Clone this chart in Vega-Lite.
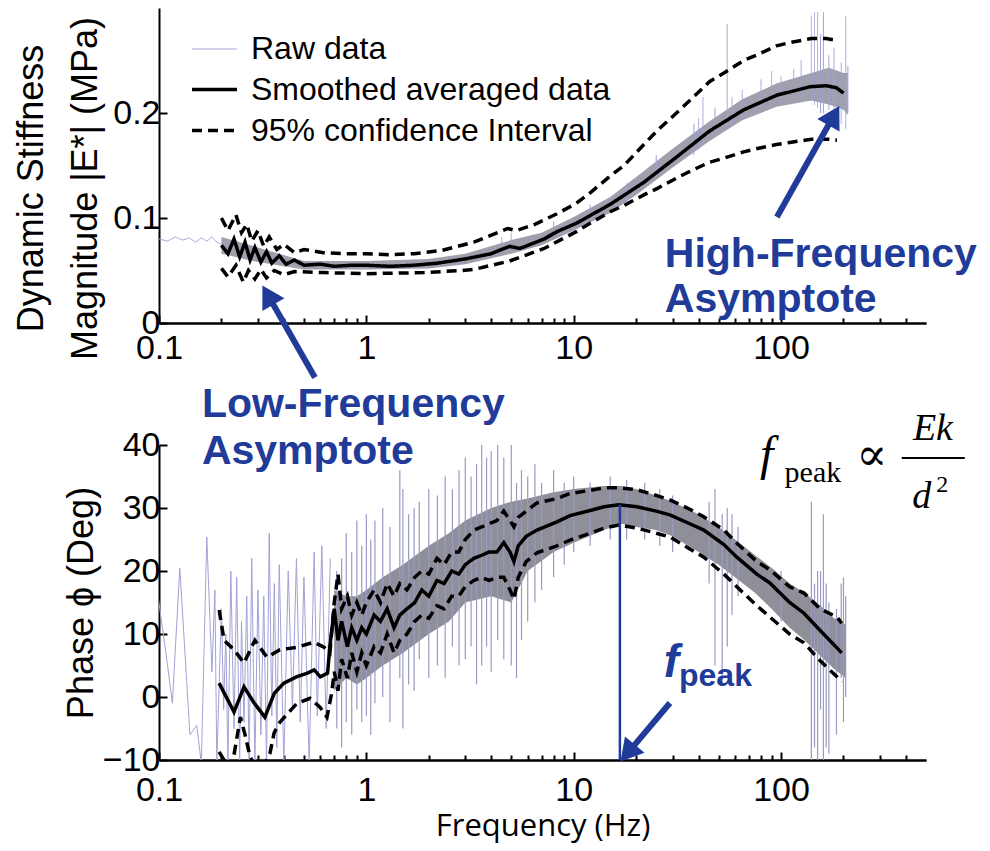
{
  "$schema": "https://vega.github.io/schema/vega-lite/v6.json",
  "background": "white",
  "padding": {"left": 13, "top": 8, "right": 2, "bottom": 2},
  "spacing": 122,
  "bounds": "flush",
  "datasets": {
    "topBand": [
      {"f": 0.2, "lo": 0.066, "hi": 0.082}, {"f": 0.3, "lo": 0.058, "hi": 0.072}, {"f": 0.5, "lo": 0.051, "hi": 0.059},
      {"f": 1, "lo": 0.051, "hi": 0.059}, {"f": 2, "lo": 0.052, "hi": 0.061}, {"f": 3, "lo": 0.056, "hi": 0.066},
      {"f": 5, "lo": 0.066, "hi": 0.079}, {"f": 7, "lo": 0.074, "hi": 0.086}, {"f": 10, "lo": 0.088, "hi": 0.101},
      {"f": 15, "lo": 0.105, "hi": 0.12}, {"f": 20, "lo": 0.122, "hi": 0.139}, {"f": 30, "lo": 0.148, "hi": 0.166},
      {"f": 45, "lo": 0.173, "hi": 0.192}, {"f": 65, "lo": 0.193, "hi": 0.213}, {"f": 95, "lo": 0.206, "hi": 0.228},
      {"f": 140, "lo": 0.212, "hi": 0.238}, {"f": 170, "lo": 0.208, "hi": 0.243}, {"f": 200, "lo": 0.203, "hi": 0.238},
      {"f": 210, "lo": 0.198, "hi": 0.238}
    ],
    "topSpikes": [
      {"f": 2.5, "lo": 0.054, "hi": 0.064}, {"f": 4.5, "lo": 0.066, "hi": 0.082}, {"f": 5.0, "lo": 0.068, "hi": 0.086},
      {"f": 8, "lo": 0.082, "hi": 0.097}, {"f": 12, "lo": 0.098, "hi": 0.113}, {"f": 18, "lo": 0.115, "hi": 0.133},
      {"f": 25, "lo": 0.14, "hi": 0.16}, {"f": 38, "lo": 0.16, "hi": 0.19}, {"f": 40, "lo": 0.165, "hi": 0.195},
      {"f": 42, "lo": 0.17, "hi": 0.215}, {"f": 48, "lo": 0.18, "hi": 0.205}, {"f": 55, "lo": 0.185, "hi": 0.285},
      {"f": 58, "lo": 0.19, "hi": 0.215}, {"f": 65, "lo": 0.195, "hi": 0.222}, {"f": 80, "lo": 0.205, "hi": 0.232},
      {"f": 90, "lo": 0.208, "hi": 0.24}, {"f": 100, "lo": 0.21, "hi": 0.235}, {"f": 115, "lo": 0.212, "hi": 0.242},
      {"f": 125, "lo": 0.213, "hi": 0.25}, {"f": 140, "lo": 0.212, "hi": 0.292}, {"f": 145, "lo": 0.208, "hi": 0.296},
      {"f": 150, "lo": 0.205, "hi": 0.296}, {"f": 155, "lo": 0.2, "hi": 0.275}, {"f": 160, "lo": 0.2, "hi": 0.296},
      {"f": 170, "lo": 0.203, "hi": 0.255}, {"f": 180, "lo": 0.195, "hi": 0.262}, {"f": 195, "lo": 0.19, "hi": 0.248},
      {"f": 205, "lo": 0.185, "hi": 0.292}, {"f": 210, "lo": 0.2, "hi": 0.245}
    ],
    "topRaw": [
      {"f": 0.1, "v": 0.08}, {"f": 0.11, "v": 0.078}, {"f": 0.12, "v": 0.082}, {"f": 0.13, "v": 0.079},
      {"f": 0.14, "v": 0.081}, {"f": 0.15, "v": 0.077}, {"f": 0.16, "v": 0.081}, {"f": 0.17, "v": 0.078},
      {"f": 0.18, "v": 0.082}, {"f": 0.19, "v": 0.077}, {"f": 0.2, "v": 0.075}
    ],
    "topSmooth": [
      {"f": 0.2, "v": 0.074}, {"f": 0.215, "v": 0.066}, {"f": 0.23, "v": 0.08}, {"f": 0.245, "v": 0.063},
      {"f": 0.26, "v": 0.077}, {"f": 0.275, "v": 0.06}, {"f": 0.29, "v": 0.072}, {"f": 0.31, "v": 0.058},
      {"f": 0.33, "v": 0.068}, {"f": 0.35, "v": 0.057}, {"f": 0.38, "v": 0.064}, {"f": 0.41, "v": 0.056},
      {"f": 0.45, "v": 0.06}, {"f": 0.5, "v": 0.055}, {"f": 0.6, "v": 0.056}, {"f": 0.7, "v": 0.054},
      {"f": 0.85, "v": 0.055}, {"f": 1.0, "v": 0.055}, {"f": 1.3, "v": 0.054}, {"f": 1.7, "v": 0.055},
      {"f": 2.2, "v": 0.057}, {"f": 3.0, "v": 0.061}, {"f": 4.0, "v": 0.066}, {"f": 4.9, "v": 0.073},
      {"f": 5.5, "v": 0.071}, {"f": 7.2, "v": 0.08}, {"f": 8.3, "v": 0.087}, {"f": 10.3, "v": 0.095},
      {"f": 15, "v": 0.113}, {"f": 21.8, "v": 0.134}, {"f": 31.3, "v": 0.158}, {"f": 45.3, "v": 0.183},
      {"f": 66, "v": 0.203}, {"f": 95.5, "v": 0.217}, {"f": 138, "v": 0.225}, {"f": 165, "v": 0.226},
      {"f": 185, "v": 0.224}, {"f": 200, "v": 0.219}
    ],
    "topCI": [
      {"bound": "upper", "f": 0.2, "v": 0.1}, {"bound": "upper", "f": 0.215, "v": 0.088}, {"bound": "upper", "f": 0.235, "v": 0.103},
      {"bound": "upper", "f": 0.25, "v": 0.086}, {"bound": "upper", "f": 0.265, "v": 0.094}, {"bound": "upper", "f": 0.28, "v": 0.078},
      {"bound": "upper", "f": 0.3, "v": 0.088}, {"bound": "upper", "f": 0.32, "v": 0.073}, {"bound": "upper", "f": 0.34, "v": 0.082},
      {"bound": "upper", "f": 0.37, "v": 0.07}, {"bound": "upper", "f": 0.4, "v": 0.075}, {"bound": "upper", "f": 0.45, "v": 0.067},
      {"bound": "upper", "f": 0.5, "v": 0.07}, {"bound": "upper", "f": 0.62, "v": 0.067}, {"bound": "upper", "f": 0.8, "v": 0.066},
      {"bound": "upper", "f": 1.0, "v": 0.066}, {"bound": "upper", "f": 1.3, "v": 0.065}, {"bound": "upper", "f": 1.7, "v": 0.066},
      {"bound": "upper", "f": 2.3, "v": 0.069}, {"bound": "upper", "f": 3.3, "v": 0.077}, {"bound": "upper", "f": 4.8, "v": 0.09},
      {"bound": "upper", "f": 5.3, "v": 0.088}, {"bound": "upper", "f": 6.5, "v": 0.094}, {"bound": "upper", "f": 8.3, "v": 0.104},
      {"bound": "upper", "f": 10.3, "v": 0.114}, {"bound": "upper", "f": 12, "v": 0.124}, {"bound": "upper", "f": 15, "v": 0.14},
      {"bound": "upper", "f": 17.5, "v": 0.15}, {"bound": "upper", "f": 21.8, "v": 0.17}, {"bound": "upper", "f": 25.2, "v": 0.183},
      {"bound": "upper", "f": 31.3, "v": 0.2}, {"bound": "upper", "f": 36.3, "v": 0.212}, {"bound": "upper", "f": 45.3, "v": 0.23},
      {"bound": "upper", "f": 53, "v": 0.238}, {"bound": "upper", "f": 66, "v": 0.25}, {"bound": "upper", "f": 76, "v": 0.255},
      {"bound": "upper", "f": 95, "v": 0.264}, {"bound": "upper", "f": 110, "v": 0.267}, {"bound": "upper", "f": 140, "v": 0.271},
      {"bound": "upper", "f": 165, "v": 0.271}, {"bound": "upper", "f": 186, "v": 0.269},
      {"bound": "lower", "f": 0.2, "v": 0.052}, {"bound": "lower", "f": 0.215, "v": 0.044}, {"bound": "lower", "f": 0.235, "v": 0.055},
      {"bound": "lower", "f": 0.255, "v": 0.039}, {"bound": "lower", "f": 0.27, "v": 0.05}, {"bound": "lower", "f": 0.29, "v": 0.042},
      {"bound": "lower", "f": 0.31, "v": 0.051}, {"bound": "lower", "f": 0.33, "v": 0.043}, {"bound": "lower", "f": 0.36, "v": 0.05},
      {"bound": "lower", "f": 0.4, "v": 0.046}, {"bound": "lower", "f": 0.45, "v": 0.049}, {"bound": "lower", "f": 0.62, "v": 0.048},
      {"bound": "lower", "f": 1.0, "v": 0.047}, {"bound": "lower", "f": 1.9, "v": 0.048}, {"bound": "lower", "f": 2.9, "v": 0.05},
      {"bound": "lower", "f": 3.3, "v": 0.051}, {"bound": "lower", "f": 4.9, "v": 0.059}, {"bound": "lower", "f": 7.2, "v": 0.071},
      {"bound": "lower", "f": 10.3, "v": 0.087}, {"bound": "lower", "f": 12, "v": 0.095}, {"bound": "lower", "f": 15, "v": 0.106},
      {"bound": "lower", "f": 17.5, "v": 0.112}, {"bound": "lower", "f": 21.8, "v": 0.122}, {"bound": "lower", "f": 25.2, "v": 0.128},
      {"bound": "lower", "f": 31.3, "v": 0.138}, {"bound": "lower", "f": 36, "v": 0.144}, {"bound": "lower", "f": 45, "v": 0.153},
      {"bound": "lower", "f": 53, "v": 0.157}, {"bound": "lower", "f": 66, "v": 0.163}, {"bound": "lower", "f": 76, "v": 0.166},
      {"bound": "lower", "f": 95, "v": 0.17}, {"bound": "lower", "f": 110, "v": 0.172}, {"bound": "lower", "f": 140, "v": 0.175},
      {"bound": "lower", "f": 170, "v": 0.175}, {"bound": "lower", "f": 186, "v": 0.174}
    ],
    "botRaw": [
      {"f": 0.098, "v": 17}, {"f": 0.11, "v": 5}, {"f": 0.116, "v": -1}, {"f": 0.126, "v": 20.5}, {"f": 0.141, "v": -6},
      {"f": 0.152, "v": -4.5}, {"f": 0.16, "v": -10.5}, {"f": 0.17, "v": 25.4}, {"f": 0.18, "v": 4}, {"f": 0.186, "v": 17},
      {"f": 0.19, "v": -10.5}, {"f": 0.2, "v": 14}, {"f": 0.205, "v": -2}, {"f": 0.21, "v": 10}, {"f": 0.215, "v": -10.5},
      {"f": 0.222, "v": 20}, {"f": 0.23, "v": -5}, {"f": 0.237, "v": 19}, {"f": 0.245, "v": -10.5}, {"f": 0.25, "v": 12},
      {"f": 0.257, "v": -4}, {"f": 0.265, "v": 16}, {"f": 0.272, "v": -10.5}, {"f": 0.28, "v": 22}, {"f": 0.29, "v": -10.5},
      {"f": 0.3, "v": 17}, {"f": 0.31, "v": -6}, {"f": 0.32, "v": 16}, {"f": 0.33, "v": -10.5}, {"f": 0.34, "v": 26},
      {"f": 0.35, "v": -3}, {"f": 0.36, "v": 18}, {"f": 0.37, "v": -8}, {"f": 0.38, "v": 21}, {"f": 0.4, "v": -10.5},
      {"f": 0.42, "v": 20}, {"f": 0.44, "v": -2}, {"f": 0.46, "v": 22}, {"f": 0.48, "v": -4}, {"f": 0.5, "v": 19},
      {"f": 0.53, "v": -10.5}, {"f": 0.56, "v": 23}, {"f": 0.58, "v": -3}, {"f": 0.61, "v": 24}, {"f": 0.64, "v": -5},
      {"f": 0.67, "v": 22}
    ],
    "botBand": [
      {"f": 0.7, "lo": 1, "hi": 17}, {"f": 0.8, "lo": 3, "hi": 16}, {"f": 0.9, "lo": 2, "hi": 16}, {"f": 1.0, "lo": 3, "hi": 17},
      {"f": 1.2, "lo": 5, "hi": 19}, {"f": 1.5, "lo": 7, "hi": 21}, {"f": 2.0, "lo": 10, "hi": 24}, {"f": 2.5, "lo": 12, "hi": 26},
      {"f": 3.0, "lo": 15, "hi": 28}, {"f": 4.0, "lo": 16, "hi": 30}, {"f": 5.0, "lo": 15, "hi": 31}, {"f": 6.0, "lo": 20, "hi": 31.5},
      {"f": 8.0, "lo": 23, "hi": 32.5}, {"f": 10, "lo": 24.5, "hi": 33}, {"f": 14, "lo": 26.5, "hi": 33.5}, {"f": 17, "lo": 27.5, "hi": 33.5},
      {"f": 20, "lo": 27, "hi": 33}, {"f": 25, "lo": 26.5, "hi": 32}, {"f": 30, "lo": 25.5, "hi": 31}, {"f": 40, "lo": 23, "hi": 29},
      {"f": 50, "lo": 21, "hi": 27}, {"f": 60, "lo": 19, "hi": 25}, {"f": 75, "lo": 16.5, "hi": 22.5}, {"f": 90, "lo": 14, "hi": 20.5},
      {"f": 110, "lo": 11, "hi": 18}, {"f": 130, "lo": 9, "hi": 16.5}, {"f": 155, "lo": 6.5, "hi": 14.5}, {"f": 180, "lo": 4.5, "hi": 12.5},
      {"f": 205, "lo": 3, "hi": 11.5}
    ],
    "botSpikes": [
      {"f": 0.72, "lo": -5, "hi": 20}, {"f": 0.76, "lo": -8, "hi": 22}, {"f": 0.8, "lo": -4, "hi": 26}, {"f": 0.85, "lo": -6, "hi": 23},
      {"f": 0.9, "lo": -2, "hi": 28}, {"f": 0.95, "lo": -4, "hi": 24}, {"f": 1.0, "lo": -3, "hi": 29}, {"f": 1.05, "lo": -6, "hi": 25},
      {"f": 1.1, "lo": -1, "hi": 28}, {"f": 1.2, "lo": 0, "hi": 30}, {"f": 1.3, "lo": -4, "hi": 27}, {"f": 1.45, "lo": 3, "hi": 36},
      {"f": 1.5, "lo": -5, "hi": 33}, {"f": 1.6, "lo": 2, "hi": 29}, {"f": 1.7, "lo": 1, "hi": 30}, {"f": 1.8, "lo": 6, "hi": 31},
      {"f": 2.0, "lo": 3, "hi": 33}, {"f": 2.2, "lo": 5, "hi": 32}, {"f": 2.4, "lo": 3, "hi": 35}, {"f": 2.6, "lo": 8, "hi": 33},
      {"f": 2.8, "lo": 5, "hi": 36}, {"f": 3.0, "lo": 6, "hi": 38}, {"f": 3.2, "lo": 8, "hi": 35}, {"f": 3.4, "lo": 2, "hi": 37},
      {"f": 3.6, "lo": 5, "hi": 40}, {"f": 3.8, "lo": 8, "hi": 38}, {"f": 4.0, "lo": 4, "hi": 39}, {"f": 4.3, "lo": 9, "hi": 40},
      {"f": 4.6, "lo": 6, "hi": 38}, {"f": 5.0, "lo": 5, "hi": 40}, {"f": 5.3, "lo": 3, "hi": 34}, {"f": 5.6, "lo": 9, "hi": 36},
      {"f": 6.0, "lo": 12, "hi": 35}, {"f": 6.5, "lo": 15, "hi": 37}, {"f": 7.0, "lo": 17, "hi": 34}, {"f": 8.0, "lo": 19, "hi": 36},
      {"f": 9.0, "lo": 21, "hi": 34}, {"f": 10, "lo": 23, "hi": 35}, {"f": 12, "lo": 24, "hi": 34}, {"f": 15, "lo": 25, "hi": 35},
      {"f": 18, "lo": 25, "hi": 34.5}, {"f": 22, "lo": 25, "hi": 34}, {"f": 26, "lo": 24, "hi": 33}, {"f": 30, "lo": 23, "hi": 32},
      {"f": 45, "lo": 18, "hi": 31}, {"f": 48, "lo": 5, "hi": 33}, {"f": 52, "lo": 2, "hi": 29}, {"f": 55, "lo": 8, "hi": 30},
      {"f": 58, "lo": 13, "hi": 29}, {"f": 62, "lo": 16, "hi": 27}, {"f": 100, "lo": 12, "hi": 20}, {"f": 140, "lo": -10, "hi": 31},
      {"f": 145, "lo": -8, "hi": 18}, {"f": 150, "lo": -10, "hi": 20}, {"f": 155, "lo": -2, "hi": 20}, {"f": 160, "lo": -10, "hi": 29},
      {"f": 165, "lo": -8, "hi": 18}, {"f": 170, "lo": -9, "hi": 15}, {"f": 185, "lo": -6, "hi": 14}, {"f": 195, "lo": 3, "hi": 18},
      {"f": 200, "lo": -4, "hi": 19}, {"f": 205, "lo": 0, "hi": 16}
    ],
    "botSmooth": [
      {"f": 0.195, "v": 2.2}, {"f": 0.23, "v": -2.4}, {"f": 0.257, "v": 1.6}, {"f": 0.287, "v": -0.9}, {"f": 0.324, "v": -3.2},
      {"f": 0.36, "v": 0.6}, {"f": 0.4, "v": 2.2}, {"f": 0.46, "v": 3.2}, {"f": 0.52, "v": 3.8}, {"f": 0.56, "v": 4.3},
      {"f": 0.6, "v": 3.2}, {"f": 0.65, "v": 3.8}, {"f": 0.667, "v": 8}, {"f": 0.7, "v": 14}, {"f": 0.73, "v": 9},
      {"f": 0.76, "v": 12}, {"f": 0.81, "v": 8}, {"f": 0.85, "v": 11}, {"f": 0.9, "v": 9}, {"f": 0.95, "v": 11},
      {"f": 1.0, "v": 10}, {"f": 1.09, "v": 13}, {"f": 1.17, "v": 12}, {"f": 1.26, "v": 14}, {"f": 1.36, "v": 11},
      {"f": 1.45, "v": 13}, {"f": 1.57, "v": 14}, {"f": 1.71, "v": 15}, {"f": 1.85, "v": 17}, {"f": 2.0, "v": 16},
      {"f": 2.19, "v": 18.5}, {"f": 2.37, "v": 18}, {"f": 2.58, "v": 20}, {"f": 2.79, "v": 19.5}, {"f": 3.0, "v": 21},
      {"f": 3.3, "v": 22}, {"f": 3.6, "v": 22.5}, {"f": 3.9, "v": 23}, {"f": 4.26, "v": 23}, {"f": 4.6, "v": 24.5},
      {"f": 4.93, "v": 23}, {"f": 5.15, "v": 21.5}, {"f": 5.4, "v": 24}, {"f": 5.9, "v": 25.5}, {"f": 6.65, "v": 26.5},
      {"f": 8.3, "v": 27.8}, {"f": 9.6, "v": 28.8}, {"f": 12, "v": 29.6}, {"f": 14, "v": 30.2}, {"f": 16.5, "v": 30.5},
      {"f": 20.2, "v": 30.2}, {"f": 25, "v": 29.5}, {"f": 29.1, "v": 28.9}, {"f": 36.3, "v": 27.5}, {"f": 42.4, "v": 26.5},
      {"f": 53, "v": 24.2}, {"f": 61.2, "v": 22.2}, {"f": 76.4, "v": 19.5}, {"f": 88.3, "v": 18.1}, {"f": 110, "v": 15},
      {"f": 129, "v": 13.3}, {"f": 154, "v": 10.6}, {"f": 186, "v": 7.8}, {"f": 196, "v": 7.0}
    ],
    "botCI": [
      {"bound": "upper", "f": 0.195, "v": 13.8}, {"bound": "upper", "f": 0.206, "v": 9.0}, {"bound": "upper", "f": 0.23, "v": 7.5},
      {"bound": "upper", "f": 0.257, "v": 5.4}, {"bound": "upper", "f": 0.29, "v": 9.0}, {"bound": "upper", "f": 0.332, "v": 6.3},
      {"bound": "upper", "f": 0.383, "v": 7.5}, {"bound": "upper", "f": 0.463, "v": 7.9}, {"bound": "upper", "f": 0.559, "v": 8.7},
      {"bound": "upper", "f": 0.625, "v": 7.9}, {"bound": "upper", "f": 0.667, "v": 7.0}, {"bound": "upper", "f": 0.7, "v": 15},
      {"bound": "upper", "f": 0.73, "v": 19.5}, {"bound": "upper", "f": 0.76, "v": 14}, {"bound": "upper", "f": 0.81, "v": 16},
      {"bound": "upper", "f": 0.85, "v": 13}, {"bound": "upper", "f": 0.9, "v": 15}, {"bound": "upper", "f": 0.95, "v": 13},
      {"bound": "upper", "f": 1.0, "v": 15}, {"bound": "upper", "f": 1.09, "v": 17}, {"bound": "upper", "f": 1.17, "v": 15},
      {"bound": "upper", "f": 1.26, "v": 18}, {"bound": "upper", "f": 1.36, "v": 16}, {"bound": "upper", "f": 1.45, "v": 18},
      {"bound": "upper", "f": 1.57, "v": 17}, {"bound": "upper", "f": 1.71, "v": 19}, {"bound": "upper", "f": 1.85, "v": 20},
      {"bound": "upper", "f": 2.0, "v": 19.5}, {"bound": "upper", "f": 2.19, "v": 22}, {"bound": "upper", "f": 2.37, "v": 21},
      {"bound": "upper", "f": 2.58, "v": 23}, {"bound": "upper", "f": 2.79, "v": 23}, {"bound": "upper", "f": 3.0, "v": 25},
      {"bound": "upper", "f": 3.3, "v": 26.5}, {"bound": "upper", "f": 3.6, "v": 27}, {"bound": "upper", "f": 3.9, "v": 27.5},
      {"bound": "upper", "f": 4.26, "v": 28}, {"bound": "upper", "f": 4.6, "v": 29.5}, {"bound": "upper", "f": 4.93, "v": 28},
      {"bound": "upper", "f": 5.15, "v": 27}, {"bound": "upper", "f": 5.4, "v": 28.5}, {"bound": "upper", "f": 5.9, "v": 29.5},
      {"bound": "upper", "f": 6.65, "v": 30.8}, {"bound": "upper", "f": 8.3, "v": 31.5}, {"bound": "upper", "f": 9.6, "v": 32.3},
      {"bound": "upper", "f": 12, "v": 32.8}, {"bound": "upper", "f": 14, "v": 33.2}, {"bound": "upper", "f": 16.5, "v": 33.2},
      {"bound": "upper", "f": 20.2, "v": 32.9}, {"bound": "upper", "f": 25, "v": 32}, {"bound": "upper", "f": 29.1, "v": 31.3},
      {"bound": "upper", "f": 36.3, "v": 29.8}, {"bound": "upper", "f": 42.4, "v": 28.6}, {"bound": "upper", "f": 53, "v": 26.5},
      {"bound": "upper", "f": 61.2, "v": 24.4}, {"bound": "upper", "f": 76.4, "v": 21.5}, {"bound": "upper", "f": 88.3, "v": 20.2},
      {"bound": "upper", "f": 110, "v": 17.5}, {"bound": "upper", "f": 129, "v": 16.5}, {"bound": "upper", "f": 154, "v": 14},
      {"bound": "upper", "f": 186, "v": 12.7}, {"bound": "upper", "f": 196, "v": 11.7},
      {"bound": "lower", "f": 0.195, "v": -8.7}, {"bound": "lower", "f": 0.21, "v": -10.5}, {"bound": "lower", "f": 0.225, "v": -11},
      {"bound": "lower", "f": 0.247, "v": -3.2}, {"bound": "lower", "f": 0.26, "v": -6}, {"bound": "lower", "f": 0.275, "v": -9.5},
      {"bound": "lower", "f": 0.29, "v": -11}, {"bound": "lower", "f": 0.32, "v": -11}, {"bound": "lower", "f": 0.343, "v": -8.9},
      {"bound": "lower", "f": 0.359, "v": -5.7}, {"bound": "lower", "f": 0.383, "v": -4.0}, {"bound": "lower", "f": 0.463, "v": -1.0},
      {"bound": "lower", "f": 0.535, "v": -0.2}, {"bound": "lower", "f": 0.597, "v": -1.6}, {"bound": "lower", "f": 0.646, "v": -3.2},
      {"bound": "lower", "f": 0.68, "v": 0.6}, {"bound": "lower", "f": 0.7, "v": 4}, {"bound": "lower", "f": 0.73, "v": 1},
      {"bound": "lower", "f": 0.76, "v": 6}, {"bound": "lower", "f": 0.81, "v": 3}, {"bound": "lower", "f": 0.85, "v": 7},
      {"bound": "lower", "f": 0.9, "v": 4}, {"bound": "lower", "f": 0.95, "v": 7}, {"bound": "lower", "f": 1.0, "v": 5},
      {"bound": "lower", "f": 1.09, "v": 8}, {"bound": "lower", "f": 1.17, "v": 7}, {"bound": "lower", "f": 1.26, "v": 10},
      {"bound": "lower", "f": 1.36, "v": 7}, {"bound": "lower", "f": 1.45, "v": 9}, {"bound": "lower", "f": 1.57, "v": 10},
      {"bound": "lower", "f": 1.71, "v": 12}, {"bound": "lower", "f": 1.85, "v": 13}, {"bound": "lower", "f": 2.0, "v": 12.5},
      {"bound": "lower", "f": 2.19, "v": 14.5}, {"bound": "lower", "f": 2.37, "v": 14}, {"bound": "lower", "f": 2.58, "v": 16},
      {"bound": "lower", "f": 2.79, "v": 16}, {"bound": "lower", "f": 3.0, "v": 17.5}, {"bound": "lower", "f": 3.3, "v": 18.5},
      {"bound": "lower", "f": 3.6, "v": 19}, {"bound": "lower", "f": 3.9, "v": 18.5}, {"bound": "lower", "f": 4.26, "v": 19},
      {"bound": "lower", "f": 4.6, "v": 19}, {"bound": "lower", "f": 4.93, "v": 17}, {"bound": "lower", "f": 5.15, "v": 15.5},
      {"bound": "lower", "f": 5.4, "v": 19}, {"bound": "lower", "f": 5.9, "v": 21.5}, {"bound": "lower", "f": 6.65, "v": 22.9},
      {"bound": "lower", "f": 8.3, "v": 24}, {"bound": "lower", "f": 9.6, "v": 24.9}, {"bound": "lower", "f": 12, "v": 26},
      {"bound": "lower", "f": 14, "v": 26.8}, {"bound": "lower", "f": 16.5, "v": 27.3}, {"bound": "lower", "f": 20.2, "v": 26.8},
      {"bound": "lower", "f": 25, "v": 26}, {"bound": "lower", "f": 29.1, "v": 25.4}, {"bound": "lower", "f": 36.3, "v": 23.5},
      {"bound": "lower", "f": 42.4, "v": 22.2}, {"bound": "lower", "f": 53, "v": 19.5}, {"bound": "lower", "f": 61.2, "v": 17.5},
      {"bound": "lower", "f": 76.4, "v": 14.5}, {"bound": "lower", "f": 88.3, "v": 12.7}, {"bound": "lower", "f": 110, "v": 10},
      {"bound": "lower", "f": 129, "v": 8.6}, {"bound": "lower", "f": 154, "v": 5.8}, {"bound": "lower", "f": 186, "v": 3.2},
      {"bound": "lower", "f": 196, "v": 2.4}
    ]
  },
  "vconcat": [
    {
      "width": 767,
      "height": 315,
      "resolve": {"axis": {"x": "independent"}},
      "layer": [
        {
          "data": {"name": "topBand"},
          "mark": {"type": "area", "color": "#8e8ea0", "opacity": 0.85, "clip": true},
          "encoding": {
            "x": {"field": "f", "type": "quantitative", "scale": {"type": "log", "domain": [0.1, 500], "nice": false},
                  "axis": {"orient": "bottom", "values": [0.2, 0.3, 0.4, 0.5, 0.6, 0.7, 0.8, 0.9, 2, 3, 4, 5, 6, 7, 8, 9, 20, 30, 40, 50, 60, 70, 80, 90, 200, 300, 400], "labels": false, "tickSize": -5, "title": null}},
            "y": {"field": "lo", "type": "quantitative", "scale": {"domain": [0, 0.3], "nice": false, "zero": false},
                  "axis": {"values": [0, 0.1, 0.2], "format": "~g", "tickSize": -8, "labelPadding": 7,
                           "title": ["Dynamic Stiffness", "Magnitude |E*| (MPa)"], "titleLineHeight": 54, "titlePadding": 8, "titleY": 180}},
            "y2": {"field": "hi"}
          }
        },
        {
          "data": {"name": "topSpikes"},
          "mark": {"type": "rule", "clip": true},
          "encoding": {
            "x": {"field": "f", "type": "quantitative", "scale": {"type": "log", "domain": [0.1, 500], "nice": false},
                  "axis": {"orient": "bottom", "values": [0.1, 1, 10, 100], "format": "~g", "tickSize": -8, "labelPadding": 16, "title": null}},
            "y": {"field": "lo", "type": "quantitative"},
            "y2": {"field": "hi"},
            "color": {"datum": "Raw data", "scale": {"type": "ordinal", "domain": ["Raw data", "Smoothed averaged data", "95% confidence Interval"], "range": ["#a2a2d8", "#000000", "#000000"]}, "legend": {"title": null}},
            "strokeDash": {"datum": "Raw data", "scale": {"type": "ordinal", "domain": ["Raw data", "Smoothed averaged data", "95% confidence Interval"], "range": [[1, 0], [1, 0], [10, 6]]}, "legend": {"title": null}},
            "strokeWidth": {"datum": "Raw data", "scale": {"type": "ordinal", "domain": ["Raw data", "Smoothed averaged data", "95% confidence Interval"], "range": [1, 3.5, 3.5]}, "legend": {"title": null}}
          }
        },
        {
          "data": {"name": "topRaw"},
          "mark": {"type": "line", "clip": true},
          "encoding": {
            "x": {"field": "f", "type": "quantitative", "scale": {"type": "log", "domain": [0.1, 500], "nice": false}, "axis": null},
            "y": {"field": "v", "type": "quantitative"},
            "color": {"datum": "Raw data", "scale": {"type": "ordinal", "domain": ["Raw data", "Smoothed averaged data", "95% confidence Interval"], "range": ["#a2a2d8", "#000000", "#000000"]}, "legend": {"title": null}},
            "strokeDash": {"datum": "Raw data", "scale": {"type": "ordinal", "domain": ["Raw data", "Smoothed averaged data", "95% confidence Interval"], "range": [[1, 0], [1, 0], [10, 6]]}, "legend": {"title": null}},
            "strokeWidth": {"datum": "Raw data", "scale": {"type": "ordinal", "domain": ["Raw data", "Smoothed averaged data", "95% confidence Interval"], "range": [1, 3.5, 3.5]}, "legend": {"title": null}}
          }
        },
        {
          "data": {"name": "topCI"},
          "mark": {"type": "line", "clip": true},
          "encoding": {
            "x": {"field": "f", "type": "quantitative", "scale": {"type": "log", "domain": [0.1, 500], "nice": false}, "axis": null},
            "y": {"field": "v", "type": "quantitative"},
            "detail": {"field": "bound"},
            "color": {"datum": "95% confidence Interval", "scale": {"type": "ordinal", "domain": ["Raw data", "Smoothed averaged data", "95% confidence Interval"], "range": ["#a2a2d8", "#000000", "#000000"]}, "legend": {"title": null}},
            "strokeDash": {"datum": "95% confidence Interval", "scale": {"type": "ordinal", "domain": ["Raw data", "Smoothed averaged data", "95% confidence Interval"], "range": [[1, 0], [1, 0], [10, 6]]}, "legend": {"title": null}},
            "strokeWidth": {"datum": "95% confidence Interval", "scale": {"type": "ordinal", "domain": ["Raw data", "Smoothed averaged data", "95% confidence Interval"], "range": [1, 3.5, 3.5]}, "legend": {"title": null}}
          }
        },
        {
          "data": {"name": "topSmooth"},
          "mark": {"type": "line", "clip": true},
          "encoding": {
            "x": {"field": "f", "type": "quantitative", "scale": {"type": "log", "domain": [0.1, 500], "nice": false}, "axis": null},
            "y": {"field": "v", "type": "quantitative"},
            "color": {"datum": "Smoothed averaged data", "scale": {"type": "ordinal", "domain": ["Raw data", "Smoothed averaged data", "95% confidence Interval"], "range": ["#a2a2d8", "#000000", "#000000"]}, "legend": {"title": null}},
            "strokeDash": {"datum": "Smoothed averaged data", "scale": {"type": "ordinal", "domain": ["Raw data", "Smoothed averaged data", "95% confidence Interval"], "range": [[1, 0], [1, 0], [10, 6]]}, "legend": {"title": null}},
            "strokeWidth": {"datum": "Smoothed averaged data", "scale": {"type": "ordinal", "domain": ["Raw data", "Smoothed averaged data", "95% confidence Interval"], "range": [1, 3.5, 3.5]}, "legend": {"title": null}}
          }
        },
        {
          "data": {"values": [{}]},
          "mark": {"type": "text", "text": "High-Frequency", "align": "left", "baseline": "middle", "font": "Liberation Sans", "fontSize": 41, "fontWeight": "bold", "color": "#213b98"},
          "encoding": {
            "x": {"datum": 27.5, "type": "quantitative", "scale": {"type": "log", "domain": [0.1, 500], "nice": false}, "axis": null},
            "y": {"datum": 0.0648, "type": "quantitative"}
          }
        },
        {
          "data": {"values": [{}]},
          "mark": {"type": "text", "text": "Asymptote", "align": "left", "baseline": "middle", "font": "Liberation Sans", "fontSize": 41, "fontWeight": "bold", "color": "#213b98"},
          "encoding": {
            "x": {"datum": 27.5, "type": "quantitative", "scale": {"type": "log", "domain": [0.1, 500], "nice": false}, "axis": null},
            "y": {"datum": 0.0219, "type": "quantitative"}
          }
        },
        {
          "data": {"values": [{}]},
          "mark": {"type": "rule", "color": "#213b98", "strokeWidth": 6},
          "encoding": {
            "x": {"datum": 95.5, "type": "quantitative", "scale": {"type": "log", "domain": [0.1, 500], "nice": false}, "axis": null},
            "x2": {"datum": 179.7},
            "y": {"datum": 0.101, "type": "quantitative"},
            "y2": {"datum": 0.1976}
          }
        },
        {
          "data": {"values": [{}]},
          "mark": {"type": "point", "shape": "triangle-up", "filled": true, "color": "#213b98", "size": 650, "opacity": 1, "angle": 29.4},
          "encoding": {
            "x": {"datum": 179.7, "type": "quantitative", "scale": {"type": "log", "domain": [0.1, 500], "nice": false}, "axis": null},
            "y": {"datum": 0.1976, "type": "quantitative"}
          }
        },
        {
          "data": {"values": [{}]},
          "mark": {"type": "rule", "color": "#213b98", "strokeWidth": 6},
          "encoding": {
            "x": {"datum": 0.565, "type": "quantitative", "scale": {"type": "log", "domain": [0.1, 500], "nice": false}, "axis": null},
            "x2": {"datum": 0.335},
            "y": {"datum": -0.052, "type": "quantitative"},
            "y2": {"datum": 0.0267}
          }
        },
        {
          "data": {"values": [{}]},
          "mark": {"type": "point", "shape": "triangle-up", "filled": true, "color": "#213b98", "size": 650, "opacity": 1, "angle": 330},
          "encoding": {
            "x": {"datum": 0.335, "type": "quantitative", "scale": {"type": "log", "domain": [0.1, 500], "nice": false}, "axis": null},
            "y": {"datum": 0.0267, "type": "quantitative"}
          }
        }
      ]
    },
    {
      "width": 767,
      "height": 315,
      "resolve": {"axis": {"x": "independent"}},
      "layer": [
        {
          "data": {"name": "botBand"},
          "mark": {"type": "area", "color": "#83838f", "opacity": 0.9, "clip": true},
          "encoding": {
            "x": {"field": "f", "type": "quantitative", "scale": {"type": "log", "domain": [0.1, 500], "nice": false},
                  "axis": {"orient": "bottom", "values": [0.2, 0.3, 0.4, 0.5, 0.6, 0.7, 0.8, 0.9, 2, 3, 4, 5, 6, 7, 8, 9, 20, 30, 40, 50, 60, 70, 80, 90, 200, 300, 400], "labels": false, "tickSize": -5, "title": null}},
            "y": {"field": "lo", "type": "quantitative", "scale": {"domain": [-10, 40], "nice": false, "zero": false},
                  "axis": {"values": [-10, 0, 10, 20, 30, 40], "format": "~g", "tickSize": -8, "labelPadding": 7,
                           "title": "Phase ϕ (Deg)", "titlePadding": 2}},
            "y2": {"field": "hi"}
          }
        },
        {
          "data": {"name": "botSpikes"},
          "mark": {"type": "rule", "clip": true, "color": "#9a9ac4", "strokeWidth": 1.2},
          "encoding": {
            "x": {"field": "f", "type": "quantitative", "scale": {"type": "log", "domain": [0.1, 500], "nice": false},
                  "axis": {"orient": "bottom", "values": [0.1, 1, 10, 100], "format": "~g", "tickSize": -8, "labelPadding": 21, "title": "Frequency (Hz)", "titleFont": "Open Sans", "titleFontSize": 31, "titlePadding": 4}},
            "y": {"field": "lo", "type": "quantitative"},
            "y2": {"field": "hi"}
          }
        },
        {
          "data": {"name": "botRaw"},
          "mark": {"type": "line", "clip": true, "color": "#a2a2d8", "strokeWidth": 1},
          "encoding": {
            "x": {"field": "f", "type": "quantitative", "scale": {"type": "log", "domain": [0.1, 500], "nice": false}, "axis": null},
            "y": {"field": "v", "type": "quantitative"}
          }
        },
        {
          "data": {"name": "botCI"},
          "mark": {"type": "line", "clip": true, "color": "#000000", "strokeWidth": 3.5, "strokeDash": [10, 6]},
          "encoding": {
            "x": {"field": "f", "type": "quantitative", "scale": {"type": "log", "domain": [0.1, 500], "nice": false}, "axis": null},
            "y": {"field": "v", "type": "quantitative"},
            "detail": {"field": "bound"}
          }
        },
        {
          "data": {"name": "botSmooth"},
          "mark": {"type": "line", "clip": true, "color": "#000000", "strokeWidth": 3.5},
          "encoding": {
            "x": {"field": "f", "type": "quantitative", "scale": {"type": "log", "domain": [0.1, 500], "nice": false}, "axis": null},
            "y": {"field": "v", "type": "quantitative"}
          }
        },
        {
          "data": {"values": [{}]},
          "mark": {"type": "rule", "color": "#213b98", "strokeWidth": 2.5},
          "encoding": {
            "x": {"datum": 16.7, "type": "quantitative", "scale": {"type": "log", "domain": [0.1, 500], "nice": false}, "axis": null},
            "y": {"datum": -10, "type": "quantitative"},
            "y2": {"datum": 30.5}
          }
        },
        {
          "data": {"values": [{}]},
          "mark": {"type": "rule", "color": "#213b98", "strokeWidth": 6},
          "encoding": {
            "x": {"datum": 29.1, "type": "quantitative", "scale": {"type": "log", "domain": [0.1, 500], "nice": false}, "axis": null},
            "x2": {"datum": 18.2},
            "y": {"datum": -0.95, "type": "quantitative"},
            "y2": {"datum": -8.9}
          }
        },
        {
          "data": {"values": [{}]},
          "mark": {"type": "point", "shape": "triangle-up", "filled": true, "color": "#213b98", "size": 650, "opacity": 1, "angle": 220},
          "encoding": {
            "x": {"datum": 18.2, "type": "quantitative", "scale": {"type": "log", "domain": [0.1, 500], "nice": false}, "axis": null},
            "y": {"datum": -8.9, "type": "quantitative"}
          }
        },
        {
          "data": {"values": [{}]},
          "mark": {"type": "text", "text": "Low-Frequency", "align": "left", "baseline": "middle", "font": "Liberation Sans", "fontSize": 41, "fontWeight": "bold", "color": "#213b98"},
          "encoding": {
            "x": {"datum": 0.161, "type": "quantitative", "scale": {"type": "log", "domain": [0.1, 500], "nice": false}, "axis": null},
            "y": {"datum": 46.35, "type": "quantitative"}
          }
        },
        {
          "data": {"values": [{}]},
          "mark": {"type": "text", "text": "Asymptote", "align": "left", "baseline": "middle", "font": "Liberation Sans", "fontSize": 41, "fontWeight": "bold", "color": "#213b98"},
          "encoding": {
            "x": {"datum": 0.161, "type": "quantitative", "scale": {"type": "log", "domain": [0.1, 500], "nice": false}, "axis": null},
            "y": {"datum": 38.9, "type": "quantitative"}
          }
        },
        {
          "data": {"values": [{}]},
          "mark": {"type": "text", "text": "f", "align": "left", "baseline": "alphabetic", "font": "Liberation Sans", "fontSize": 46, "fontWeight": "bold", "fontStyle": "italic", "color": "#213b98"},
          "encoding": {
            "x": {"datum": 27.2, "type": "quantitative", "scale": {"type": "log", "domain": [0.1, 500], "nice": false}, "axis": null},
            "y": {"datum": 3.17, "type": "quantitative"}
          }
        },
        {
          "data": {"values": [{}]},
          "mark": {"type": "text", "text": "peak", "align": "left", "baseline": "alphabetic", "font": "Liberation Sans", "fontSize": 32, "fontWeight": "bold", "color": "#213b98"},
          "encoding": {
            "x": {"datum": 32.2, "type": "quantitative", "scale": {"type": "log", "domain": [0.1, 500], "nice": false}, "axis": null},
            "y": {"datum": 1.75, "type": "quantitative"}
          }
        },
        {
          "data": {"values": [{}]},
          "mark": {"type": "text", "text": "f", "align": "left", "baseline": "alphabetic", "font": "Liberation Serif", "fontSize": 48, "fontStyle": "italic", "color": "#000000"},
          "encoding": {
            "x": {"datum": 79.1, "type": "quantitative", "scale": {"type": "log", "domain": [0.1, 500], "nice": false}, "axis": null},
            "y": {"datum": 36.0, "type": "quantitative"}
          }
        },
        {
          "data": {"values": [{}]},
          "mark": {"type": "text", "text": "peak", "align": "left", "baseline": "alphabetic", "font": "Liberation Serif", "fontSize": 30, "color": "#000000"},
          "encoding": {
            "x": {"datum": 104, "type": "quantitative", "scale": {"type": "log", "domain": [0.1, 500], "nice": false}, "axis": null},
            "y": {"datum": 34.1, "type": "quantitative"}
          }
        },
        {
          "data": {"values": [{}]},
          "mark": {"type": "text", "text": "∝", "align": "center", "baseline": "middle", "font": "DejaVu Serif", "fontSize": 46, "color": "#000000"},
          "encoding": {
            "x": {"datum": 274, "type": "quantitative", "scale": {"type": "log", "domain": [0.1, 500], "nice": false}, "axis": null},
            "y": {"datum": 38.25, "type": "quantitative"}
          }
        },
        {
          "data": {"values": [{}]},
          "mark": {"type": "text", "text": "Ek", "align": "center", "baseline": "alphabetic", "font": "Liberation Serif", "fontSize": 38, "fontStyle": "italic", "color": "#000000"},
          "encoding": {
            "x": {"datum": 540, "type": "quantitative", "scale": {"type": "log", "domain": [0.1, 500], "nice": false}, "axis": null},
            "y": {"datum": 40.8, "type": "quantitative"}
          }
        },
        {
          "data": {"values": [{}]},
          "mark": {"type": "rule", "color": "#000000", "strokeWidth": 2},
          "encoding": {
            "x": {"datum": 382, "type": "quantitative", "scale": {"type": "log", "domain": [0.1, 500], "nice": false}, "axis": null},
            "x2": {"datum": 769},
            "y": {"datum": 37.94, "type": "quantitative"}
          }
        },
        {
          "data": {"values": [{}]},
          "mark": {"type": "text", "text": "d", "align": "center", "baseline": "alphabetic", "font": "Liberation Serif", "fontSize": 38, "fontStyle": "italic", "color": "#000000"},
          "encoding": {
            "x": {"datum": 477, "type": "quantitative", "scale": {"type": "log", "domain": [0.1, 500], "nice": false}, "axis": null},
            "y": {"datum": 30.0, "type": "quantitative"}
          }
        },
        {
          "data": {"values": [{}]},
          "mark": {"type": "text", "text": "2", "align": "left", "baseline": "alphabetic", "font": "Liberation Serif", "fontSize": 24, "color": "#000000"},
          "encoding": {
            "x": {"datum": 560, "type": "quantitative", "scale": {"type": "log", "domain": [0.1, 500], "nice": false}, "axis": null},
            "y": {"datum": 32.5, "type": "quantitative"}
          }
        }
      ]
    }
  ],
  "resolve": {
    "scale": {"color": "independent", "strokeDash": "independent", "strokeWidth": "independent"},
    "legend": {"color": "independent", "strokeDash": "independent", "strokeWidth": "independent"}
  },
  "config": {
    "view": {"stroke": null},
    "font": "Liberation Sans",
    "axis": {
      "grid": false, "domainColor": "#000000", "domainWidth": 2, "tickColor": "#000000", "tickWidth": 2,
      "labelFont": "Liberation Sans", "labelFontSize": 34, "labelColor": "#000000",
      "titleFont": "Liberation Sans", "titleFontSize": 36, "titleFontWeight": "normal", "titleColor": "#000000",
      "labelOverlap": false, "labelFlush": false, "labelBound": false
    },
    "legend": {
      "orient": "none", "legendX": 31, "legendY": 18, "padding": 0, "symbolType": "stroke", "symbolSize": 2025,
      "labelFont": "Liberation Sans", "labelFontSize": 32, "labelColor": "#000000", "labelOffset": 12,
      "rowPadding": -6, "labelLimit": 600
    }
  }
}
